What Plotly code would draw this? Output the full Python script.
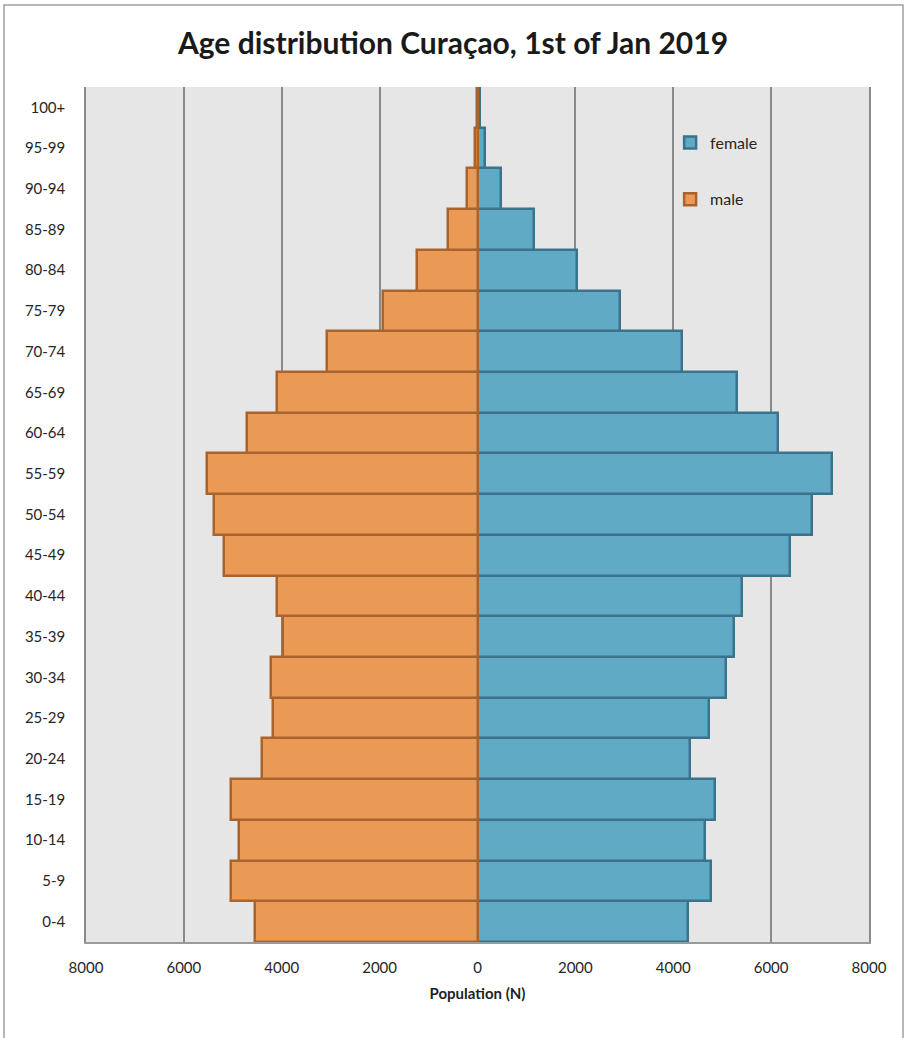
import plotly.graph_objects as go

# Population of Curaçao by five-year age group, 1 January 2019
age_groups = ["0-4", "5-9", "10-14", "15-19", "20-24", "25-29", "30-34",
              "35-39", "40-44", "45-49", "50-54", "55-59", "60-64", "65-69",
              "70-74", "75-79", "80-84", "85-89", "90-94", "95-99", "100+"]
male = [4550, 5040, 4880, 5040, 4410, 4180, 4220, 3980, 4100, 5180, 5390,
        5530, 4710, 4100, 3080, 1940, 1245, 612, 224, 50, 12]
female = [4300, 4780, 4650, 4860, 4340, 4735, 5075, 5235, 5410, 6390, 6830,
          7245, 6140, 5300, 4170, 2915, 2041, 1160, 470, 150, 55]

tick_values = [-8000, -6000, -4000, -2000, 0, 2000, 4000, 6000, 8000]
tick_text = ["8000", "6000", "4000", "2000", "0", "2000", "4000", "6000", "8000"]

FONT = "Lato, 'Open Sans', sans-serif"
TEXT = "#262626"

fig = go.Figure()

fig.add_trace(go.Bar(
    name="female", y=age_groups, x=female, orientation="h",
    legendgroup="f",
    marker=dict(color="#60AAC5", line=dict(color="#3C738C", width=2.5)),
    hovertemplate="%{y}: %{x}<extra>female</extra>",
))
fig.add_trace(go.Bar(
    name="male", y=age_groups, x=[-v for v in male], orientation="h",
    legendgroup="m", customdata=male,
    marker=dict(color="#EA9A54", line=dict(color="#A9642D", width=2.5)),
    hovertemplate="%{y}: %{customdata}<extra>male</extra>",
))

# light grey outer frame around the figure
frame = dict(type="rect", xref="paper", yref="paper",
             x0=(4 - 86) / 783, x1=(903 - 86) / 783,
             y0=(942 - 1045) / 855, y1=(942 - 5) / 855,
             line=dict(color="#A0A0A0", width=1.5), layer="below")

fig.update_layout(
    width=906, height=1038,
    margin=dict(l=86, r=37, t=87, b=96),
    barmode="overlay", bargap=0,
    plot_bgcolor="#E6E6E6", paper_bgcolor="white",
    font=dict(family=FONT, color=TEXT, size=15),
    title=dict(text="<b>Age distribution Curaçao, 1st of Jan 2019</b>",
               x=0.5, xanchor="center", y=1 - 43 / 1038, yanchor="middle",
               font=dict(family=FONT, size=30, color="#1a1a1a")),
    xaxis=dict(range=[-8000, 8000], tickvals=tick_values, ticktext=tick_text,
               showgrid=True, gridcolor="#8A8A8A", gridwidth=1.5,
               zeroline=False, showline=True, linecolor="#9A9A9A",
               linewidth=1.5, ticks="", ticklen=0, ticklabelstandoff=11,
               tickfont=dict(size=15, color=TEXT),
               title=dict(text="<b>Population (N)</b>", standoff=14,
                          font=dict(size=15, color="#1f1f1f")),
               fixedrange=True),
    yaxis=dict(type="category", showgrid=False, showline=True, mirror=True,
               linecolor="#8A8A8A", linewidth=1.5, ticks="",
               ticklabelstandoff=16,
               tickfont=dict(size=15, color=TEXT), fixedrange=True),
    legend=dict(x=0.746, y=0.955, xanchor="left", yanchor="top",
                bgcolor="rgba(0,0,0,0)", traceorder="grouped",
                tracegroupgap=33, font=dict(size=16, color=TEXT),
                itemwidth=30),
    shapes=[frame],
)

fig.write_html("out.html")
